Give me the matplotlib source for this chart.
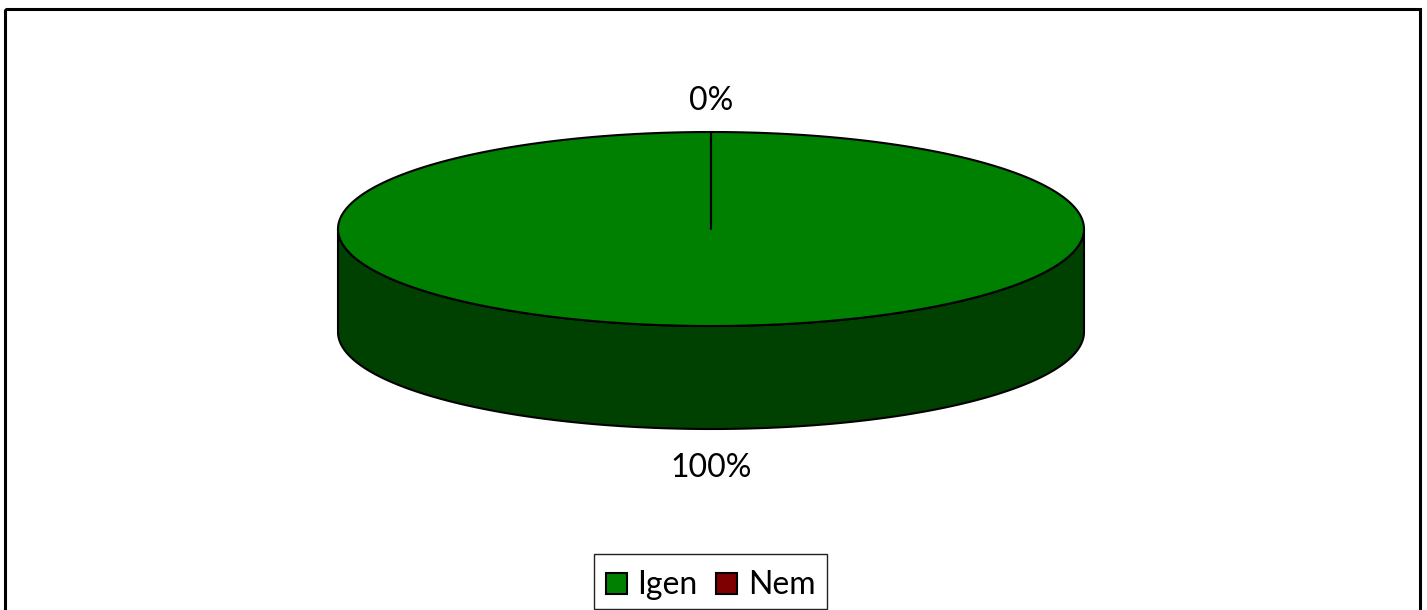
import numpy as np
import matplotlib
matplotlib.use('Agg')
import matplotlib.pyplot as plt
from matplotlib.patches import Polygon, Patch, Rectangle

categories = ['Igen', 'Nem']
values = [100, 0]
value_labels = ['100%', '0%']
top_colors = ['#008000', '#7F0000']
side_colors = ['#004000', '#400000']

plt.rcParams['font.family'] = ['Lato', 'DejaVu Sans']

W, H = 1427, 610
CX, CY = 711, 229   # top face centre, pixels
RX, RY = 373, 97    # ellipse radii
DEPTH = 103         # height of the pie wall


def ellipse_pts(a0, a1, n=300, dy=0):
    # angles clockwise from 12 o'clock, y axis points down
    t = np.radians(np.linspace(a0, a1, n))
    return np.column_stack([CX + RX * np.sin(t), CY + dy - RY * np.cos(t)])


fig = plt.figure(figsize=(W / 100, H / 100), dpi=100)
ax = fig.add_axes([0, 0, 1, 1])
ax.set_xlim(0, W)
ax.set_ylim(H, 0)
ax.axis('off')

# chart frame, bottom edge runs off the image
ax.add_patch(Rectangle((5, 9), 1415, 620, fill=False, ec='black', lw=2.2))

angles = np.cumsum([0] + values) / sum(values) * 360

# wall: only the front half of the pie is visible
for i in range(len(values)):
    a0 = max(angles[i], 90)
    a1 = min(angles[i + 1], 270)
    if a1 <= a0:
        continue
    wall = np.vstack([ellipse_pts(a0, a1), ellipse_pts(a1, a0, dy=DEPTH)])
    ax.add_patch(Polygon(wall, closed=True, fc=side_colors[i], ec='black', lw=1.5, joinstyle='round'))

# top face
for i in range(len(values)):
    if values[i] == 0:
        continue
    face = np.vstack([[CX, CY], ellipse_pts(angles[i], angles[i + 1])])
    ax.add_patch(Polygon(face, closed=True, fc=top_colors[i], ec='black', lw=1.5, joinstyle='round'))

ax.text(711, 468, value_labels[0], ha='center', va='center', fontsize=23, color='black')
ax.text(711, 101, value_labels[1], ha='center', va='center', fontsize=23, color='black')

# legend box drawn apart so the entries can sit a little low in it, as in the original
ax.add_patch(Rectangle((594, 554), 233, 55, fill=True, fc='white', ec='#222222', lw=1.0))
handles = [Patch(fc=c, ec='black', lw=1.5) for c in top_colors]
ax.legend(handles, categories, loc='center', bbox_to_anchor=(710.5, 585.5),
          bbox_transform=ax.transData, ncol=2, fontsize=23, frameon=False,
          handlelength=0.66, handleheight=0.66, handletextpad=0.34,
          columnspacing=0.56, borderpad=0.4, borderaxespad=0)

fig.savefig('out.png', dpi=100)
